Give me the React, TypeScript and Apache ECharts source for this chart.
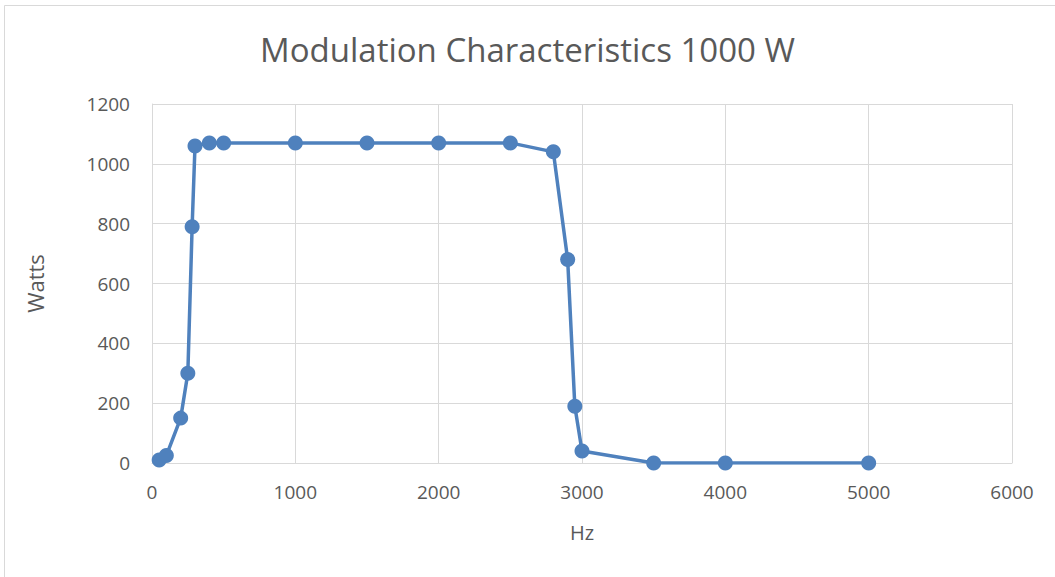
import React, { useEffect, useRef } from "react";
import * as echarts from "echarts";

const hz = [50, 100, 200, 250, 280, 300, 400, 500, 1000, 1500, 2000, 2500, 2800, 2900, 2950, 3000, 3500, 4000, 5000];
const watts = [10, 25, 150, 300, 790, 1060, 1070, 1070, 1070, 1070, 1070, 1070, 1040, 680, 190, 40, 0, 0, 0];
const titleText = "Modulation Characteristics 1000 W";
const xName = "Hz";
const yName = "Watts";

export default function App() {
  const ref = useRef<HTMLDivElement>(null);
  useEffect(() => {
    const chart = echarts.init(ref.current!, null, { renderer: "svg" });
    const font = "'Open Sans', 'Noto Sans', sans-serif";
    chart.setOption({
      animation: false,
      backgroundColor: "#ffffff",
      title: {
        text: titleText,
        left: "center",
        top: 28,
        textStyle: { fontFamily: font, fontSize: 33, fontWeight: "normal", color: "#595959" },
      },
      graphic: [
        {
          type: "rect",
          shape: { x: 4.5, y: 5.5, width: 1200, height: 700 },
          style: { fill: "none", stroke: "#d9d9d9", lineWidth: 1 },
          silent: true,
        },
      ],
      grid: { left: 152, right: 43, top: 104, bottom: 114, containLabel: false },
      xAxis: {
        type: "value",
        min: 0,
        max: 6000,
        interval: 1000,
        name: xName,
        nameLocation: "middle",
        nameGap: 59,
        nameTextStyle: { fontFamily: font, fontSize: 20, color: "#595959" },
        axisLine: { show: true, lineStyle: { color: "#d9d9d9", width: 1 } },
        axisTick: { show: false },
        axisLabel: { fontFamily: font, fontSize: 19, color: "#595959", margin: 19, formatter: (v: number) => String(v) },
        splitLine: { show: true, lineStyle: { color: "#d9d9d9", width: 1 } },
      },
      yAxis: {
        type: "value",
        min: 0,
        max: 1200,
        interval: 200,
        name: yName,
        nameLocation: "middle",
        nameGap: 106,
        nameRotate: 90,
        nameTextStyle: { fontFamily: font, fontSize: 22, color: "#595959" },
        axisLine: { show: true, lineStyle: { color: "#d9d9d9", width: 1 } },
        axisTick: { show: false },
        axisLabel: { fontFamily: font, fontSize: 19, color: "#595959", margin: 22, formatter: (v: number) => String(v) },
        splitLine: { show: true, lineStyle: { color: "#d9d9d9", width: 1 } },
      },
      series: [
        {
          type: "line",
          data: hz.map((x, i) => [x, watts[i]]),
          symbol: "circle",
          symbolSize: 15,
          lineStyle: { color: "#4f81bd", width: 3.5 },
          itemStyle: { color: "#4f81bd" },
        },
      ],
    });
    return () => chart.dispose();
  }, []);
  return (
    <div
      ref={ref}
      style={{ position: "absolute", left: 0, top: 0, width: 1055, height: 577 }}
    />
  );
}
